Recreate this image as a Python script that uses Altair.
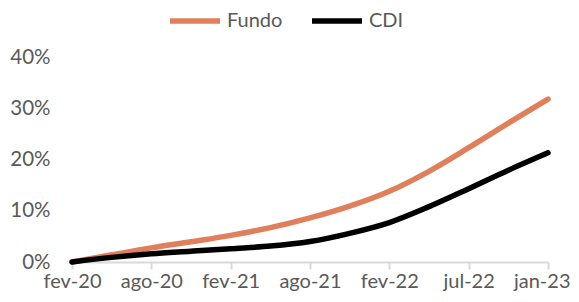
import altair as alt
import pandas as pd

# position along x axis in tick units (0 = fev-20 ... 6 = jan-23)
pos = [0.0, 0.5, 1.0, 1.5, 2.0, 2.5, 3.0, 3.5, 4.0, 4.5, 5.0, 5.5, 6.0]
fundo = [0.0, 1.4, 2.75, 3.95, 5.2, 6.7, 8.6, 10.9, 13.8, 17.7, 22.3, 27.1, 31.8]
cdi = [0.0, 0.9, 1.6, 2.1, 2.6, 3.1, 4.0, 5.6, 7.7, 10.8, 14.3, 17.9, 21.3]
tick_labels = ["fev-20", "ago-20", "fev-21", "ago-21", "fev-22", "jul-22", "jan-23"]
series = ["Fundo", "CDI"]
colors = ["#DF7F5B", "#000000"]

rows = []
for p, f, c in zip(pos, fundo, cdi):
    rows.append({"pos": p, "serie": "Fundo", "valor": f})
    rows.append({"pos": p, "serie": "CDI", "valor": c})
df = pd.DataFrame(rows)

FONT = "Lato"
label_js = "[" + ",".join("'%s'" % l for l in tick_labels) + "]"
last = len(tick_labels) - 1

chart = alt.Chart(df).mark_line(
    strokeWidth=5.5, strokeCap="round", strokeJoin="round", interpolate="monotone"
).encode(
    x=alt.X("pos:Q", scale=alt.Scale(domain=[0, 6], nice=False, zero=False),
            axis=alt.Axis(title=None, values=list(range(7)),
                          labelExpr=label_js + "[round(datum.value)]",
                          labelAlign=alt.ExprRef(expr="datum.value == %d ? 'right' : 'center'" % last),
                          labelOffset=alt.ExprRef(expr="datum.value == %d ? 22 : 0" % last),
                          grid=False, domainColor="#D9D9D9", domainWidth=2,
                          tickColor="#D9D9D9", tickWidth=2, tickSize=7,
                          labelFont=FONT, labelFontSize=20, labelColor="#595959",
                          labelPadding=2, labelFlush=False)),
    y=alt.Y("valor:Q", scale=alt.Scale(domain=[0, 40], nice=False),
            axis=alt.Axis(title=None, values=[0, 10, 20, 30, 40],
                          labelExpr="datum.value + '%'",
                          grid=False, domain=False, ticks=False,
                          labelFont=FONT, labelFontSize=20.5, labelColor="#595959",
                          labelPadding=22)),
    color=alt.Color("serie:N", sort=series,
                    scale=alt.Scale(domain=series, range=colors),
                    legend=alt.Legend(title=None, orient="none", direction="horizontal",
                                      legendX=95, legendY=-64,
                                      symbolType="stroke", symbolSize=2500,
                                      symbolStrokeWidth=5.5, labelOffset=4,
                                      columnPadding=18,
                                      labelFont=FONT, labelFontSize=20,
                                      labelColor="#595959")),
    order=alt.Order("pos:Q"),
).properties(
    width=476, height=205,
    autosize=alt.AutoSizeParams(type="none"),
    padding={"left": 64, "top": 49, "right": 23, "bottom": 32},
).configure_view(stroke=None)

chart.save("out.html", embed_options={"renderer": "svg", "actions": False})
